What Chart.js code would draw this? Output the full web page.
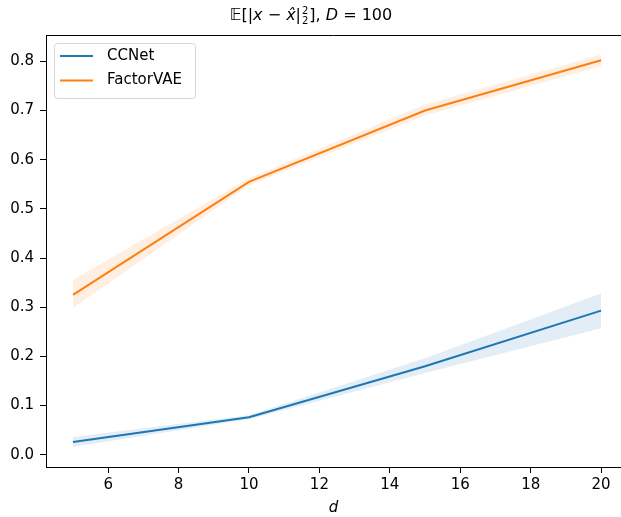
<!DOCTYPE html>
<html>
<head>
<meta charset="utf-8">
<script src="https://cdn.jsdelivr.net/npm/chart.js@4/dist/chart.umd.min.js"></script>
<style>
  html, body { margin: 0; padding: 0; background: #fff; }
  canvas { display: block; }
</style>
</head>
<body>
<canvas id="chart" width="621" height="517"></canvas>
<script>
const dims = [5, 10, 15, 20];
const ccnetMean = [0.026, 0.076, 0.180, 0.293];
const ccnetLow = [0.016, 0.072, 0.166, 0.257];
const ccnetHigh = [0.036, 0.080, 0.196, 0.328];
const factorMean = [0.325, 0.555, 0.700, 0.802];
const factorLow = [0.298, 0.548, 0.690, 0.790];
const factorHigh = [0.355, 0.562, 0.712, 0.814];
const xTicks = [6, 8, 10, 12, 14, 16, 18, 20];
const yTicks = [0.0, 0.1, 0.2, 0.3, 0.4, 0.5, 0.6, 0.7, 0.8];

// title pieces: plain, italic, or a stacked sup/sub pair
const titleParts = [
  { t: '𝔼[|' }, { t: 'x', i: true }, { t: ' − ' }, { t: 'x̂', i: true }, { t: '|' },
  { sup: '2', sub: '2' }, { t: '], ' }, { t: 'D', i: true }, { t: ' = 100' }
];

const FONT = 'DejaVu Sans';
const pts = ys => dims.map((x, i) => ({ x: x, y: ys[i] }));

function band(ys, color, fill) {
  return {
    data: pts(ys),
    borderWidth: 0,
    pointRadius: 0,
    backgroundColor: color,
    fill: fill,
    isBand: true
  };
}

const decorPlugin = {
  id: 'decor',
  afterDraw(chart) {
    const { ctx, chartArea: a, width } = chart;
    ctx.save();

    // top spine (right spine falls outside the picture)
    ctx.strokeStyle = '#000';
    ctx.lineWidth = 1;
    ctx.beginPath();
    ctx.moveTo(a.left, Math.round(a.top) + 0.5);
    ctx.lineTo(width, Math.round(a.top) + 0.5);
    ctx.stroke();

    // title
    const big = '16px "' + FONT + '"', bigI = 'italic 16px "' + FONT + '"', small = '10px "' + FONT + '"';
    const widthOf = p => {
      if (p.sup) { ctx.font = small; return ctx.measureText(p.sup).width + 2; }
      ctx.font = p.i ? bigI : big;
      return ctx.measureText(p.t).width;
    };
    const total = titleParts.reduce((s, p) => s + widthOf(p), 0);
    let tx = 311 - total / 2;
    const ty = 16;
    ctx.fillStyle = '#000';
    ctx.textBaseline = 'middle';
    ctx.textAlign = 'left';
    titleParts.forEach(p => {
      const w = widthOf(p);
      if (p.sup) {
        ctx.font = small;
        ctx.fillText(p.sup, tx + 1, ty - 5);
        ctx.fillText(p.sub, tx + 1, ty + 5);
      } else {
        ctx.font = p.i ? bigI : big;
        ctx.fillText(p.t, tx, ty);
      }
      tx += w;
    });

    // legend
    const items = chart.data.datasets.filter(d => !d.isBand);
    const x0 = 54, y0 = 43, w = 141, h = 55;
    ctx.fillStyle = 'rgba(255,255,255,0.8)';
    ctx.strokeStyle = '#d6d6d6';
    ctx.lineWidth = 1;
    ctx.beginPath();
    ctx.roundRect(x0 + 0.5, y0 + 0.5, w, h, 3);
    ctx.fill();
    ctx.stroke();
    ctx.font = '15px "' + FONT + '"';
    items.forEach((d, i) => {
      const yy = y0 + 13 + i * 24.5;
      ctx.strokeStyle = d.borderColor;
      ctx.lineWidth = 2;
      ctx.beginPath();
      ctx.moveTo(x0 + 6, yy);
      ctx.lineTo(x0 + 39, yy);
      ctx.stroke();
      ctx.fillStyle = '#000';
      ctx.fillText(d.label, x0 + 53, yy);
    });
    ctx.restore();
  }
};

new Chart(document.getElementById('chart'), {
  type: 'line',
  data: {
    datasets: [
      band(ccnetHigh, 'rgba(31,119,180,0.13)', false),
      band(ccnetLow, 'rgba(31,119,180,0.13)', '-1'),
      band(factorHigh, 'rgba(255,127,14,0.12)', false),
      band(factorLow, 'rgba(255,127,14,0.12)', '-1'),
      {
        label: 'CCNet',
        data: pts(ccnetMean),
        borderColor: '#1f77b4',
        borderWidth: 2,
        pointRadius: 0,
        fill: false
      },
      {
        label: 'FactorVAE',
        data: pts(factorMean),
        borderColor: '#ff7f0e',
        borderWidth: 2,
        pointRadius: 0,
        fill: false
      }
    ]
  },
  options: {
    responsive: false,
    animation: false,
    layout: { padding: { top: 35, right: 0, left: 0, bottom: 0 } },
    plugins: {
      legend: { display: false },
      tooltip: { enabled: false },
      title: { display: false }
    },
    scales: {
      x: {
        type: 'linear',
        min: 4.235,
        max: 20.565,
        afterBuildTicks: s => { s.ticks = xTicks.map(v => ({ value: v })); },
        afterFit: s => { s.height = 50; },
        grid: { drawOnChartArea: false, drawTicks: true, tickLength: 6, color: '#000' },
        border: { display: true, color: '#000' },
        ticks: {
          color: '#000',
          font: { family: FONT, size: 15 },
          padding: 3,
          maxRotation: 0,
          callback: v => String(v)
        },
        title: {
          display: true,
          text: 'd',
          color: '#000',
          font: { family: FONT, size: 15, style: 'italic' },
          padding: { top: 0, bottom: 0 }
        }
      },
      y: {
        type: 'linear',
        min: -0.025,
        max: 0.8535,
        afterBuildTicks: s => { s.ticks = yTicks.map(v => ({ value: v })); },
        afterFit: s => { s.width = 46; },
        grid: { drawOnChartArea: false, drawTicks: true, tickLength: 6, color: '#000' },
        border: { display: true, color: '#000' },
        ticks: {
          color: '#000',
          font: { family: FONT, size: 15 },
          padding: 6,
          callback: v => v.toFixed(1)
        }
      }
    }
  },
  plugins: [decorPlugin]
});
</script>
</body>
</html>
